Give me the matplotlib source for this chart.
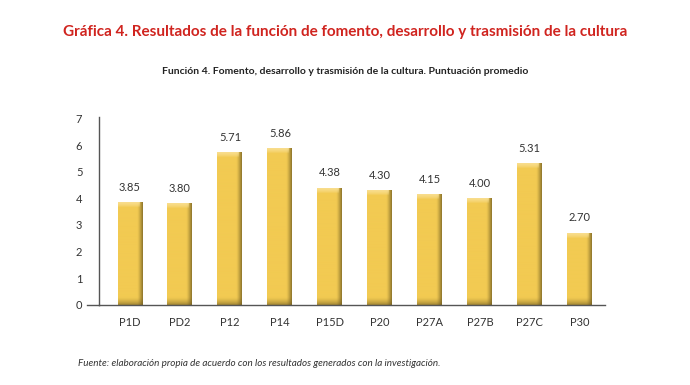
import numpy as np
import matplotlib.pyplot as plt
from matplotlib.colors import to_rgb

categories = ['P1D', 'PD2', 'P12', 'P14', 'P15D', 'P20', 'P27A', 'P27B', 'P27C', 'P30']
values = [3.85, 3.80, 5.71, 5.86, 4.38, 4.30, 4.15, 4.00, 5.31, 2.70]
labels = ['3.85', '3.80', '5.71', '5.86', '4.38', '4.30', '4.15', '4.00', '5.31', '2.70']

plt.rcParams['font.family'] = ['Lato', 'DejaVu Sans']

fig = plt.figure(figsize=(6.9, 3.85), dpi=100)
ax = fig.add_axes([0.1435, 0.208, 0.733, 0.488])

base = np.array(to_rgb('#f2ca52'))
dark = np.array(to_rgb('#6e5a20'))
light = np.array(to_rgb('#f9e095'))


def bar_image(v):
    ny, nx = max(int(v * 60), 2), 50
    y = np.linspace(v, 0, ny)[:, None]
    xx = np.linspace(0, 1, nx)[None, :]
    # darker toward right edge
    side = np.clip((xx - 0.78) / 0.22, 0, 1) ** 1.3 * 0.75
    img = base * (1 - side[..., None]) + dark * side[..., None]
    img = np.broadcast_to(img, (ny, nx, 3)).copy()
    # light band on top
    top = np.clip(1 - (v - y) / 0.18, 0, 1) ** 0.6 * (xx < 0.88)
    img = img * (1 - top[..., None] * 0.9) + light * top[..., None] * 0.9
    # shadow at the bottom
    bot = np.clip(1 - y / 0.3, 0, 1) ** 1.5 * 0.6
    img = img * (1 - bot[..., None]) + dark * bot[..., None]
    return np.clip(img, 0, 1)


bw = 0.5
x = np.arange(len(categories))
for xi, v, lab in zip(x, values, labels):
    ax.imshow(bar_image(v), aspect='auto', interpolation='bilinear',
              extent=(xi - bw / 2, xi + bw / 2, 0, v), zorder=2)
    ax.annotate(lab, (xi, v), xytext=(0, 7), textcoords='offset points',
                ha='center', va='bottom', fontsize=8, color='#333333')

ax.set_xlim(-0.62, 9.5)
ax.set_ylim(0, 7.05)
ax.set_yticks(range(0, 8))
ax.set_xticks(x)
ax.set_xticklabels(categories)
ax.tick_params(length=0, labelsize=8, colors='#333333')
ax.tick_params(axis='y', pad=12)
ax.tick_params(axis='x', pad=9)
for s in ['top', 'right']:
    ax.spines[s].set_visible(False)
for s in ['left', 'bottom']:
    ax.spines[s].set_color('#555555')
    ax.spines[s].set_linewidth(1)
ax.plot([-0.024, 0], [0, 0], transform=ax.transAxes, color='#555555', lw=1, clip_on=False)

fig.text(0.5, 0.917, 'Gráfica 4. Resultados de la función de fomento, desarrollo y trasmisión de la cultura',
         ha='center', va='center', fontsize=11.0, fontweight='bold', color='#d0241f')
fig.text(0.5, 0.813, 'Función 4. Fomento, desarrollo y trasmisión de la cultura. Puntuación promedio',
         ha='center', va='center', fontsize=7.5, fontweight='bold', color='#222222')
fig.text(0.113, 0.057, 'Fuente: elaboración propia de acuerdo con los resultados generados con la investigación.',
         ha='left', va='center', fontsize=7.1, style='italic', color='#333333')

fig.savefig('out.png', dpi=100)
